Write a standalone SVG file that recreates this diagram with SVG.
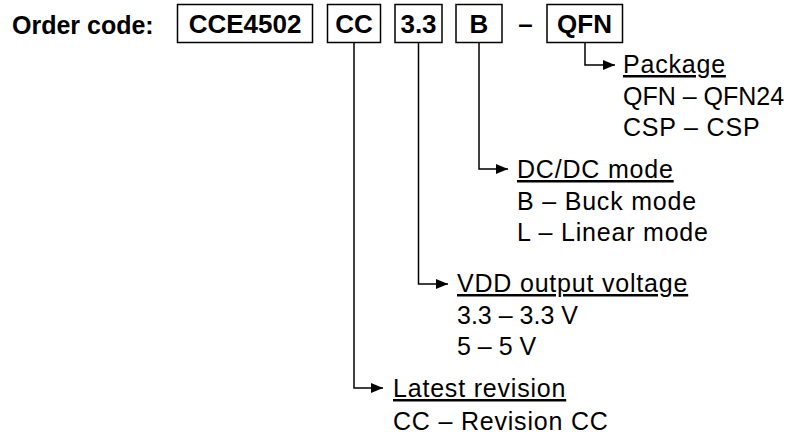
<svg xmlns="http://www.w3.org/2000/svg" width="798" height="436" viewBox="0 0 798 436">
<defs>
<marker id="arr" viewBox="0 0 12 10" refX="12" refY="5" markerWidth="12" markerHeight="10" markerUnits="userSpaceOnUse" orient="auto">
<path d="M0,0 L12,5 L0,10 Z" fill="#000"/>
</marker>
<style>
.box{fill:#fff;stroke:#000;stroke-width:1.5}
.bt{font-family:"Liberation Sans",Arial,sans-serif;font-weight:bold;font-size:26px;fill:#000;text-anchor:middle}
.lbl{font-family:"Liberation Sans",Arial,sans-serif;font-weight:bold;font-size:25px;fill:#000}
.t{font-family:"Liberation Sans",Arial,sans-serif;font-size:25px;letter-spacing:0.8px;fill:#000}
.n{letter-spacing:0}
.h{text-decoration:underline}
.c{fill:none;stroke:#000;stroke-width:1.5}
</style>
</defs>
<rect width="798" height="436" fill="#fff"/>
<text class="lbl" x="12" y="34">Order code:</text>
<g id="n-part">
<rect class="box" x="177.5" y="4.5" width="135" height="38"/>
<text class="bt" x="245" y="32.5">CCE4502</text>
</g>
<g id="n-rev">
<rect class="box" x="327.5" y="4.5" width="53" height="38"/>
<text class="bt" x="354" y="32.5">CC</text>
</g>
<g id="n-volt">
<rect class="box" x="395" y="4.5" width="47" height="38"/>
<text class="bt" x="418.5" y="32.5">3.3</text>
</g>
<g id="n-mode">
<rect class="box" x="456" y="4.5" width="46" height="38"/>
<text class="bt" x="479" y="32.5">B</text>
</g>
<text class="bt" x="525.5" y="32.5">–</text>
<g id="n-pkg">
<rect class="box" x="547" y="4.5" width="75.5" height="38"/>
<text class="bt" x="584.5" y="32.5">QFN</text>
</g>
<g id="connectors">
<path class="c" d="M585,42.5 V65 H615" marker-end="url(#arr)"/>
<path class="c" d="M479,42.5 V169 H508" marker-end="url(#arr)"/>
<path class="c" d="M418.5,42.5 V284 H448" marker-end="url(#arr)"/>
<path class="c" d="M354,42.5 V388 H383" marker-end="url(#arr)"/>
</g>
<g id="d-pkg">
<text class="t h" x="623" y="73">Package</text>
<text class="t n" x="623" y="105">QFN – QFN24</text>
<text class="t" x="623" y="136">CSP – CSP</text>
</g>
<g id="d-mode">
<text class="t h" x="517" y="178">DC/DC mode</text>
<text class="t" x="517" y="210">B – Buck mode</text>
<text class="t" x="517" y="241">L – Linear mode</text>
</g>
<g id="d-volt">
<text class="t h" x="457" y="292">VDD output voltage</text>
<text class="t n" x="457" y="324">3.3 – 3.3 V</text>
<text class="t n" x="457" y="355">5 – 5 V</text>
</g>
<g id="d-rev">
<text class="t h" x="393" y="397">Latest revision</text>
<text class="t" x="393" y="430">CC – Revision CC</text>
</g>
</svg>
